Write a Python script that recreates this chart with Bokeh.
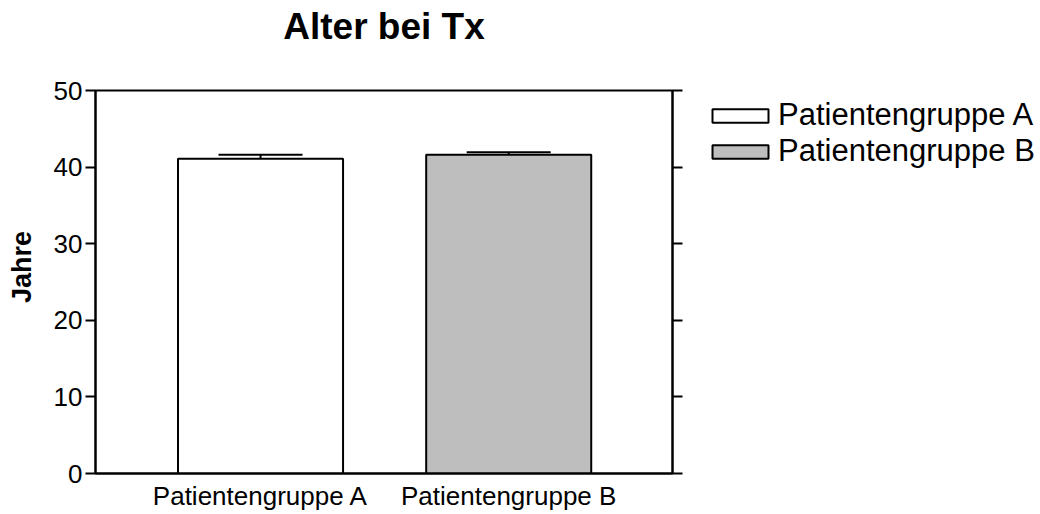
from bokeh.plotting import figure
from bokeh.layouts import row
from bokeh.models import (Range1d, FixedTicker, LinearAxis, Legend, LegendItem,
                          ColumnDataSource, Whisker, TeeHead)
from bokeh.embed import file_html
from bokeh.resources import INLINE

# ---- data ----
categories = ["Patientengruppe A", "Patientengruppe B"]
means = [41.1, 41.6]
errors = [0.5, 0.35]
colors = ["#ffffff", "#bebebe"]
y_ticks = [0, 10, 20, 30, 40, 50]
title_text = "Alter bei Tx"
y_label = "Jahre"

FONT = "Liberation Sans"
x_pos = list(range(1, len(categories) + 1))

src = ColumnDataSource(dict(
    x=x_pos, top=means, upper=[m + e for m, e in zip(means, errors)],
    color=colors, label=categories))

p = figure(width=700, height=514, output_backend="svg", toolbar_location=None,
           x_range=Range1d(0.335, 2.66), y_range=Range1d(0, 50),
           min_border_left=95, min_border_right=28, min_border_top=90,
           min_border_bottom=41)
p.xgrid.visible = False
p.ygrid.visible = False
p.outline_line_color = "black"
p.outline_line_width = 2
p.background_fill_color = "white"
p.border_fill_color = "white"

bars = p.vbar(x="x", top="top", bottom=0, width=0.665, source=src,
              fill_color="color", line_color="black", line_width=2)

w = Whisker(source=src, base="x", upper="upper", lower="top",
            line_color="black", line_width=2,
            upper_head=TeeHead(size=84, line_color="black", line_width=2),
            lower_head=None)
p.add_layout(w)

# x axis (bottom)
xa = p.below[0]
xa.ticker = FixedTicker(ticks=x_pos)
xa.major_label_overrides = {x: c for x, c in zip(x_pos, categories)}
xa.major_tick_line_color = None
xa.minor_tick_line_color = None
xa.major_tick_in = 0
xa.major_tick_out = 0
xa.axis_line_width = 2
xa.major_label_text_font = FONT
xa.major_label_text_font_size = "26px"
xa.major_label_text_color = "black"
xa.major_label_standoff = 7

# y axis (left)
ya = p.left[0]
ya.ticker = FixedTicker(ticks=y_ticks)
ya.minor_tick_line_color = None
ya.major_tick_in = 0
ya.major_tick_out = 10
ya.major_tick_line_width = 2
ya.axis_line_width = 2
ya.major_label_text_font = FONT
ya.major_label_text_font_size = "26px"
ya.major_label_text_color = "black"
ya.major_label_standoff = 3
ya.axis_label = "\u00a0\u00a0\u00a0\u00a0" + y_label
ya.axis_label_text_font = FONT
ya.axis_label_text_font_size = "27px"
ya.axis_label_text_font_style = "bold"
ya.axis_label_text_color = "black"
ya.axis_label_standoff = 14

# title as label of an (otherwise empty) top axis
ta = LinearAxis(ticker=FixedTicker(ticks=[]))
ta.axis_line_color = None
ta.major_tick_line_color = None
ta.minor_tick_line_color = None
ta.major_tick_in = 0
ta.major_tick_out = 0
ta.major_label_text_font_size = "1px"
ta.major_label_text_alpha = 0
ta.major_label_standoff = 0
ta.axis_label = title_text
ta.axis_label_text_font = FONT
ta.axis_label_text_font_size = "37px"
ta.axis_label_text_font_style = "bold"
ta.axis_label_text_color = "black"
ta.axis_label_standoff = 44
p.add_layout(ta, "above")

# right axis (ticks only)
ra = LinearAxis(ticker=FixedTicker(ticks=y_ticks))
ra.minor_tick_line_color = None
ra.major_tick_in = 0
ra.major_tick_out = 10
ra.major_tick_line_width = 2
ra.axis_line_width = 2
ra.major_label_text_alpha = 0
ra.major_label_text_font_size = "1px"
ra.major_label_standoff = 2
p.add_layout(ra, "right")

# legend panel (separate figure, no axes)
p2 = figure(width=340, height=514, output_backend="svg", toolbar_location=None,
            x_range=Range1d(100, 101), y_range=Range1d(0, 1),
            x_axis_location=None, y_axis_location=None,
            min_border_left=0, min_border_right=0, min_border_top=90,
            min_border_bottom=41)
p2.xgrid.visible = False
p2.ygrid.visible = False
p2.outline_line_color = None
p2.border_fill_color = "white"
p2.background_fill_color = "white"
key = p2.vbar(x="x", top="top", bottom=0, width=0.665, source=src,
              fill_color="color", line_color="black", line_width=2)
key.visible = False

items = [LegendItem(label=c, renderers=[key], index=i) for i, c in enumerate(categories)]
leg = Legend(items=items, location=(5, 304), glyph_width=70, glyph_height=17,
             label_standoff=3, label_text_font=FONT, label_text_font_size="31px",
             label_text_color="black", label_height=30, spacing=0, padding=0,
             margin=0, border_line_color=None, background_fill_alpha=0,
             inactive_fill_alpha=0)
p2.add_layout(leg)

layout = row(p, p2, spacing=0)
open("out.html", "w").write(file_html(layout, INLINE))
